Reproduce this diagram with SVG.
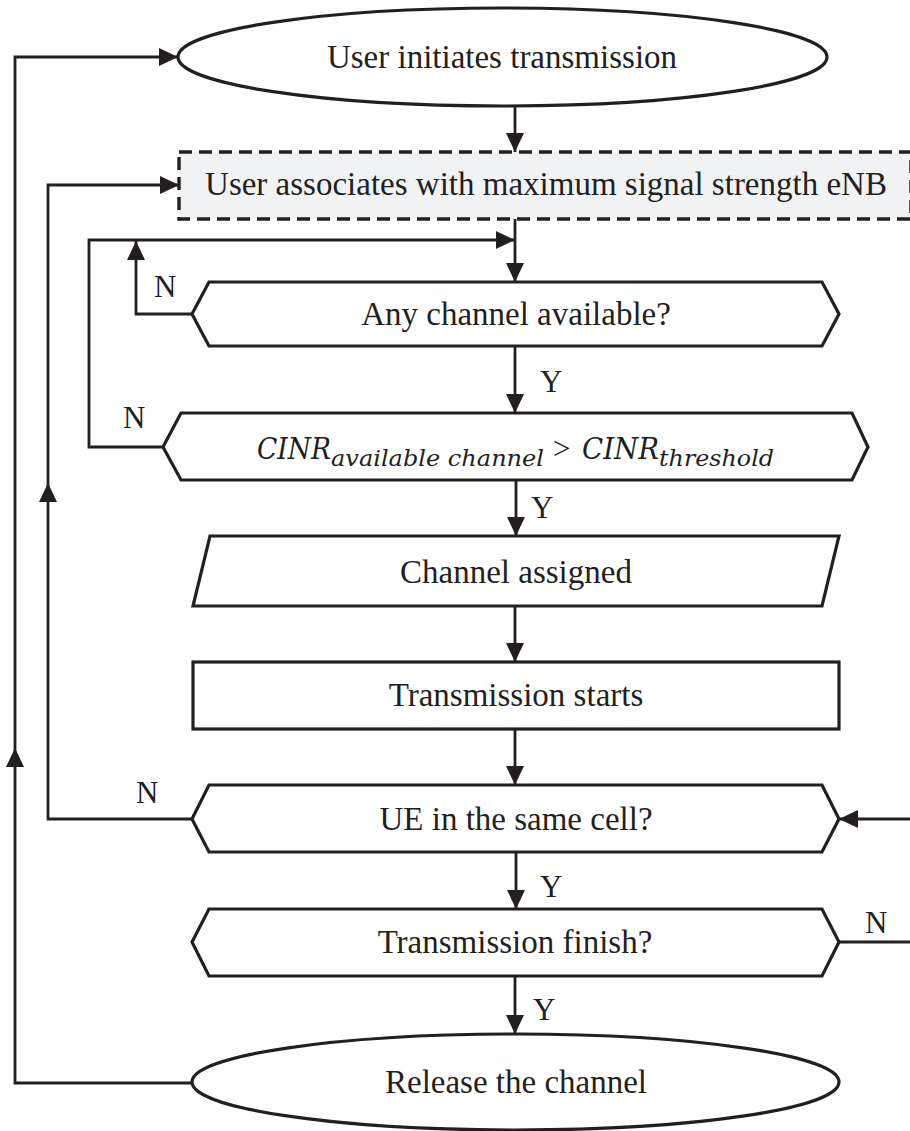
<svg xmlns="http://www.w3.org/2000/svg" width="910" height="1131" viewBox="0 0 910 1131">
<style>
.shape{fill:#ffffff;stroke:#231f20;stroke-width:3.2;stroke-linejoin:miter}
.dash{fill:#f1f2f4;stroke:#231f20;stroke-width:3.4;stroke-dasharray:13 7}
.lbl{font-family:"Liberation Serif","Times New Roman",serif;font-size:33px;fill:#231f20;text-anchor:middle}
.yn{font-family:"Liberation Serif","Times New Roman",serif;font-size:31px;fill:#231f20}
.math{font-family:"DejaVu Serif","Liberation Serif",serif;font-style:italic;fill:#231f20}
.conn{fill:none;stroke:#231f20;stroke-width:2.8}
</style>
<defs>
<marker id="ah" viewBox="0 0 19 18" refX="19" refY="9" markerWidth="19" markerHeight="18" markerUnits="userSpaceOnUse" orient="auto">
<path d="M0,0 L19,9 L0,18 z" fill="#231f20"/>
</marker>
</defs>
<rect width="910" height="1131" fill="#ffffff"/>

<g id="connectors">
<path class="conn" d="M515,107 V152" marker-end="url(#ah)"/>
<path class="conn" d="M515,219 V282" marker-end="url(#ah)"/>
<path class="conn" d="M515,346 V413" marker-end="url(#ah)"/>
<path class="conn" d="M516,480 V536" marker-end="url(#ah)"/>
<path class="conn" d="M515,606 V662" marker-end="url(#ah)"/>
<path class="conn" d="M515,729 V785" marker-end="url(#ah)"/>
<path class="conn" d="M516,852 V909" marker-end="url(#ah)"/>
<path class="conn" d="M515,976 V1034" marker-end="url(#ah)"/>
<path class="conn" d="M192,314 H136 V241" marker-end="url(#ah)"/>
<path class="conn" d="M163,447 H89 V240 H515" marker-end="url(#ah)"/>
<path class="conn" d="M192,819 H48 V483" marker-end="url(#ah)"/>
<path class="conn" d="M48,483 V185 H179" marker-end="url(#ah)"/>
<path class="conn" d="M192,1083 H15 V748" marker-end="url(#ah)"/>
<path class="conn" d="M15,748 V57 H178" marker-end="url(#ah)"/>
<path class="conn" d="M839,942 H912"/>
<path class="conn" d="M912,819 H839" marker-end="url(#ah)"/>
<text class="yn" x="154" y="297">N</text>
<text class="yn" x="123" y="428">N</text>
<text class="yn" x="136" y="803">N</text>
<text class="yn" x="865" y="933">N</text>
<text class="yn" x="540" y="392">Y</text>
<text class="yn" x="531" y="518">Y</text>
<text class="yn" x="540" y="897">Y</text>
<text class="yn" x="533" y="1020">Y</text>
</g>

<g id="start">
<ellipse class="shape" cx="502.5" cy="57" rx="324.5" ry="49"/>
<text class="lbl" x="502" y="68">User initiates transmission</text>
</g>

<g id="associate">
<rect class="dash" x="179" y="152" width="732" height="67"/>
<text class="lbl" x="546" y="195">User associates with maximum signal strength eNB</text>
</g>

<g id="anychannel">
<polygon class="shape" points="192,314 209,282 822,282 839,314 822,346 209,346"/>
<text class="lbl" x="516" y="325">Any channel available?</text>
</g>

<g id="cinr">
<polygon class="shape" points="163,447 181,413 852,413 868,447 852,480 181,480"/>
<text class="math" x="257" y="459" font-size="30" textLength="74" lengthAdjust="spacingAndGlyphs">CINR</text>
<text class="math" x="331" y="466" font-size="22" textLength="213" lengthAdjust="spacingAndGlyphs">available channel</text>
<text class="yn" x="553" y="459" font-size="30">&gt;</text>
<text class="math" x="582" y="459" font-size="30" textLength="77" lengthAdjust="spacingAndGlyphs">CINR</text>
<text class="math" x="659" y="466" font-size="22" textLength="115" lengthAdjust="spacingAndGlyphs">threshold</text>
</g>

<g id="assigned">
<polygon class="shape" points="210,536 839,536 822,606 193,606"/>
<text class="lbl" x="516" y="583">Channel assigned</text>
</g>

<g id="starts">
<rect class="shape" x="193" y="662" width="646" height="67"/>
<text class="lbl" x="516" y="706">Transmission starts</text>
</g>

<g id="samecell">
<polygon class="shape" points="192,819 209,785 822,785 839,819 822,852 209,852"/>
<text class="lbl" x="516" y="830">UE in the same cell?</text>
</g>

<g id="finish">
<polygon class="shape" points="192,942 209,909 822,909 839,942 822,976 209,976"/>
<text class="lbl" x="515" y="953">Transmission finish?</text>
</g>

<g id="release">
<ellipse class="shape" cx="515.5" cy="1082" rx="323.5" ry="48"/>
<text class="lbl" x="516" y="1093">Release the channel</text>
</g>
</svg>
